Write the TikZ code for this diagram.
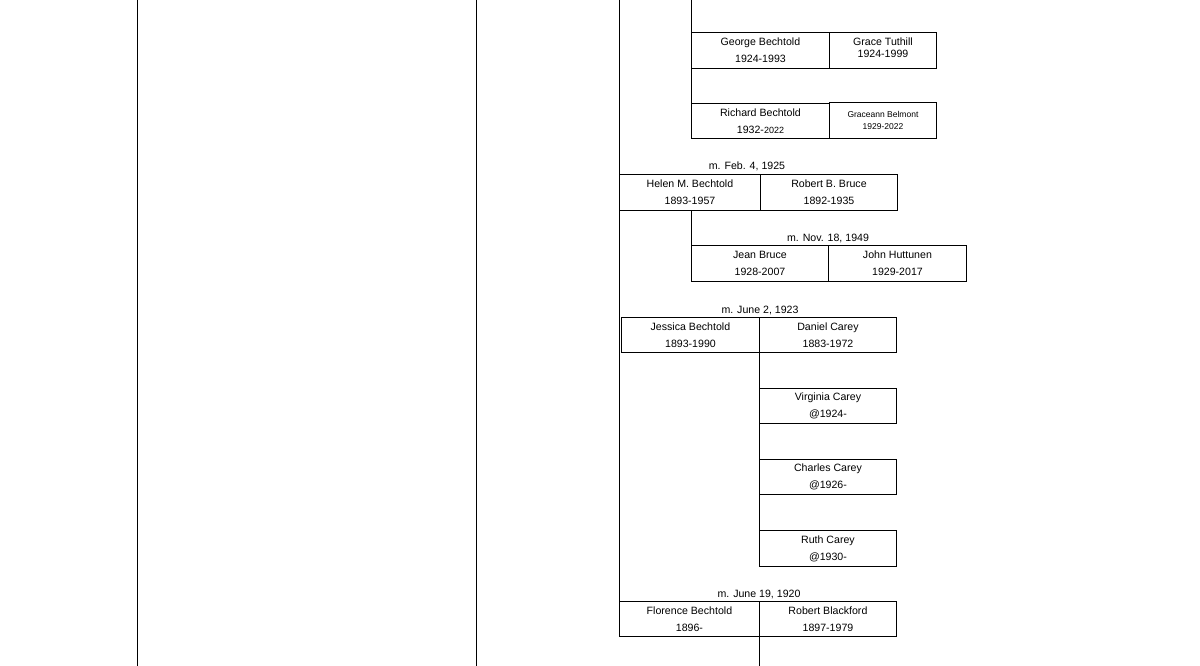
\documentclass[tikz,border=0pt]{standalone}
\usepackage{fontspec}
\setmainfont{Liberation Sans}
\begin{document}
\begin{tikzpicture}[x=1pt,y=-1pt,
  bx/.style={draw,line width=0.9pt,rectangle,anchor=north west,inner sep=0pt,align=center,
    font=\fontsize{10.6}{17}\selectfont},
  mlab/.style={font=\fontsize{10.6}{12}\selectfont,anchor=base},
  ln/.style={line width=0.9pt}]
\useasboundingbox (0,0) rectangle (1200,666);
\fill[white] (0,0) rectangle (1200,666);
% page columns
\coordinate (c1t) at (137,0); \coordinate (c1b) at (137,666);
\coordinate (c2t) at (476,0); \coordinate (c2b) at (476,666);
\draw[ln] (c1t) -- (c1b);
\draw[ln] (c2t) -- (c2b);
% boxes
\newcommand{\fbx}[6]{\node[bx,minimum width=#3,minimum height=#4] (#1) at (#2) {#5\\#6};}
\fbx{george}{691,32}{138pt}{36pt}{George Bechtold}{1924-1993}
\fbx{grace}{829,32}{107pt}{36pt}{Grace Tuthill}{\raisebox{5pt}{1924-1999}}
\fbx{richard}{691,103}{138pt}{35pt}{Richard Bechtold}{1932-{\fontsize{9}{9}\selectfont 2022}}
\node[bx,minimum width=107pt,minimum height=36pt,font=\fontsize{8.5}{12}\selectfont] (graceann) at (829,102) {Graceann Belmont\\1929-2022};
\fbx{helen}{619,174}{141pt}{36pt}{Helen M. Bechtold}{1893-1957}
\fbx{robert}{760,174}{137pt}{36pt}{Robert B. Bruce}{1892-1935}
\fbx{jean}{691,245}{137pt}{36pt}{Jean Bruce}{1928-2007}
\fbx{john}{828,245}{138pt}{36pt}{John Huttunen}{1929-2017}
\fbx{jessica}{621,317}{138pt}{35pt}{Jessica Bechtold}{1893-1990}
\fbx{daniel}{759,317}{137pt}{35pt}{Daniel Carey}{1883-1972}
\fbx{virginia}{759,388}{137pt}{35pt}{Virginia Carey}{@1924-}
\fbx{charles}{759,459}{137pt}{35pt}{Charles Carey}{@1926-}
\fbx{ruth}{759,530}{137pt}{36pt}{Ruth Carey}{@1930-}
\fbx{florence}{619,601}{140pt}{35pt}{Florence Bechtold}{1896-}
\fbx{blackford}{759,601}{137pt}{35pt}{Robert Blackford}{1897-1979}
% marriage labels
\node[mlab] (m1) at (747,170) {m. Feb. 4, 1925};
\node[mlab] (m2) at (828,241) {m. Nov. 18, 1949};
\node[mlab] (m3) at (760,313) {m. June 2, 1923};
\node[mlab] (m4) at (759,597) {m. June 19, 1920};
% connectors
\coordinate (main top) at (619,0);
\coordinate (g top) at (691,0);
\coordinate (bl end) at (759,666);
\draw[ln] (main top) -- (florence.south west);
\draw[ln] (g top) -- (richard.south west);
\draw[ln] (helen.south west -| jean.north west) -- (jean.south west);
\draw[ln] (daniel.south west) -- (ruth.north west);
\draw[ln] (blackford.south west) -- (bl end);
\end{tikzpicture}
\end{document}
